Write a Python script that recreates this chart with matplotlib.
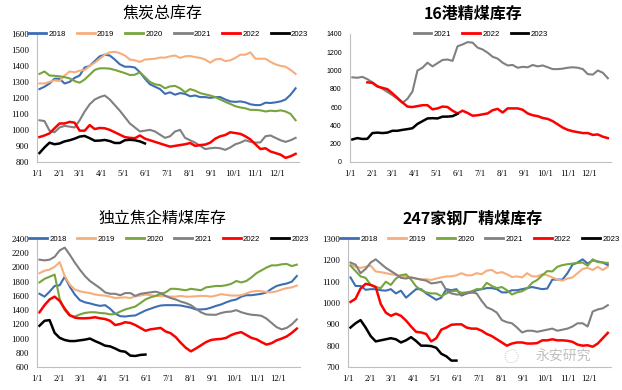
import numpy as np
import matplotlib
matplotlib.use('Agg')
import matplotlib.pyplot as plt

plt.rcParams['font.family'] = ['Noto Sans CJK SC', 'DejaVu Sans']

# ================= DATA =================
# weekly points, week i sits at day 7*i + 3
MONTH_DAYS = [0, 31, 59, 90, 120, 151, 181, 212, 243, 273, 304, 334]
MONTH_LABELS = ['1/1', '2/1', '3/1', '4/1', '5/1', '6/1', '7/1', '8/1', '9/1', '10/1', '11/1', '12/1']
YEARS = ['2018', '2019', '2020', '2021', '2022', '2023']
COLORS = {'2018': '#3d6eb4', '2019': '#f6ae7c', '2020': '#77a43d',
          '2021': '#808080', '2022': '#ff0000', '2023': '#000000'}

# 焦炭总库存
coke_2018 = [1255, 1270, 1290, 1320, 1320, 1290, 1300, 1325, 1340, 1390, 1400, 1430, 1460,
             1470, 1465, 1440, 1410, 1395, 1395, 1390, 1360, 1320, 1285, 1270, 1255, 1225,
             1235, 1220, 1230, 1225, 1210, 1215, 1205, 1205, 1200, 1205, 1205, 1190, 1178,
             1175, 1178, 1172, 1160, 1155, 1155, 1170, 1168, 1172, 1178, 1190, 1220, 1260]
coke_2019 = [1290, 1290, 1300, 1310, 1305, 1340, 1365, 1360, 1370, 1375, 1400, 1420, 1445,
             1470, 1485, 1488, 1480, 1465, 1440, 1435, 1425, 1440, 1442, 1445, 1452, 1452,
             1460, 1465, 1450, 1460, 1462, 1455, 1450, 1440, 1420, 1440, 1445, 1430, 1435,
             1450, 1470, 1470, 1485, 1445, 1445, 1445, 1425, 1410, 1400, 1395, 1375, 1350]
coke_2020 = [1350, 1365, 1340, 1338, 1335, 1330, 1322, 1305, 1295, 1315, 1345, 1375, 1385,
             1385, 1383, 1375, 1365, 1355, 1343, 1345, 1360, 1330, 1300, 1285, 1280, 1260,
             1272, 1275, 1260, 1235, 1255, 1245, 1230, 1222, 1215, 1205, 1190, 1175, 1162,
             1148, 1140, 1135, 1125, 1125, 1122, 1115, 1120, 1117, 1122, 1115, 1100, 1060]
coke_2021 = [1060, 1055, 995, 985, 1015, 1025, 1020, 1015, 1060, 1115, 1160, 1190, 1205,
             1215, 1190, 1155, 1120, 1080, 1040, 1015, 990, 995, 1000, 990, 970, 950,
             960, 990, 1000, 950, 935, 920, 900, 880, 885, 888, 885, 875, 890,
             910, 920, 935, 925, 920, 922, 960, 965, 950, 935, 925, 935, 950]
coke_2022 = [955, 965, 978, 1010, 1040, 1040, 1050, 1045, 995, 995, 1030, 1005, 1012,
             1010, 1000, 985, 970, 955, 950, 948, 965, 945, 935, 925, 915, 905,
             895, 900, 905, 910, 918, 900, 905, 908, 920, 945, 960, 968, 985,
             980, 975, 960, 940, 910, 880, 885, 865, 855, 845, 825, 835, 850]
coke_2023 = [855, 890, 920, 910, 915, 928, 935, 945, 958, 962, 948, 932, 933, 937, 930,
             918, 918, 935, 938, 935, 928, 915]

# 16港精煤库存
port_2021 = [925, 920, 930, 905, 870, 830, 800, 765, 730, 690, 645, 690, 770,
             1000, 1030, 1085, 1045, 1080, 1115, 1120, 1105, 1265, 1285, 1310, 1305, 1250,
             1230, 1195, 1150, 1130, 1085, 1055, 1060, 1030, 1040, 1035, 1060, 1045, 1055,
             1035, 1015, 1015, 1020, 1030, 1035, 1030, 1015, 960, 955, 1000, 975, 915]
port_2022 = [None, None, None, 870, 865, 825, 810, 795, 750, 700, 650, 605, 600,
             610, 620, 620, 575, 585, 605, 600, 560, 530, 560, 535, 505, 510,
             520, 530, 565, 580, 540, 585, 585, 585, 570, 530, 510, 500, 480,
             470, 445, 410, 375, 350, 335, 325, 315, 315, 295, 300, 275, 260]
port_2023 = [245, 260, 250, 252, 315, 320, 315, 320, 340, 340, 350, 358, 368, 415, 445,
             475, 478, 475, 495, 495, 500, 525]

# 独立焦企精煤库存
plant_2018 = [1630, 1590, 1660, 1740, 1750, 1870, 1730, 1620, 1540, 1510, 1495, 1475, 1460,
              1470, 1420, 1350, 1315, 1310, 1320, 1325, 1360, 1395, 1420, 1445, 1465, 1470,
              1470, 1470, 1465, 1450, 1435, 1410, 1410, 1415, 1435, 1460, 1480, 1510, 1535,
              1550, 1590, 1610, 1610, 1620, 1630, 1650, 1700, 1740, 1760, 1775, 1800, 1880]
plant_2019 = [1920, 1955, 1970, 2010, 2075, 1880, 1760, 1690, 1665, 1650, 1640, 1620, 1610,
              1605, 1590, 1570, 1575, 1580, 1570, 1595, 1605, 1620, 1610, 1600, 1600, 1595,
              1590, 1590, 1600, 1590, 1590, 1595, 1600, 1600, 1590, 1605, 1625, 1615, 1605,
              1605, 1610, 1635, 1660, 1670, 1665, 1655, 1650, 1665, 1690, 1710, 1720, 1745]
plant_2020 = [1790, 1840, 1870, 1900, 1560, 1400, 1320, 1310, 1340, 1360, 1370, 1370, 1360,
              1355, 1340, 1345, 1380, 1410, 1430, 1450, 1500, 1550, 1580, 1600, 1630, 1650,
              1700, 1700, 1690, 1680, 1700, 1690, 1680, 1720, 1730, 1740, 1740, 1750, 1770,
              1810, 1790, 1810, 1860, 1920, 1960, 2000, 2030, 2030, 2045, 2050, 2020, 2040]
plant_2021 = [2110, 2100, 2110, 2150, 2240, 2280, 2180, 2070, 1970, 1880, 1810, 1760, 1710,
              1650, 1630, 1630, 1610, 1640, 1640, 1600, 1630, 1640, 1650, 1660, 1640, 1600,
              1570, 1550, 1520, 1500, 1470, 1420, 1370, 1340, 1335, 1335, 1360, 1375, 1380,
              1400, 1370, 1350, 1335, 1330, 1320, 1280, 1220, 1160, 1130, 1150, 1200, 1270]
plant_2022 = [1370, 1470, 1550, 1590, 1530, 1420, 1330, 1295, 1285, 1285, 1290, 1300, 1285,
              1275, 1250, 1190, 1205, 1230, 1220, 1190, 1150, 1110, 1130, 1140, 1150, 1100,
              1075, 1020, 940, 870, 820, 860, 905, 950, 980, 990, 995, 1010, 1050,
              1075, 1090, 1050, 1010, 990, 950, 915, 935, 975, 1000, 1030, 1080, 1140]
plant_2023 = [1180, 1250, 1260, 1080, 1010, 980, 965, 965, 975, 985, 1000, 965, 935, 900,
              890, 860, 825, 815, 760, 755, 770, 775]

# 247家钢厂精煤库存
mill_2018 = [1120, 1080, 1080, 1062, 1065, 1065, 1060, 1058, 1065, 1045, 1058, 1025, 1045,
             1065, 1065, 1045, 1030, 1015, 1025, 1065, 1060, 1065, 1035, 1045, 1050, 1060,
             1065, 1070, 1070, 1065, 1050, 1050, 1060, 1060, 1065, 1070, 1075, 1070, 1065,
             1068, 1110, 1110, 1110, 1140, 1180, 1190, 1205, 1185, 1200, 1195, 1190, 1178]
mill_2019 = [1180, 1170, 1165, 1170, 1175, 1148, 1145, 1140, 1135, 1132, 1128, 1125, 1120,
             1115, 1110, 1112, 1108, 1115, 1120, 1125, 1125, 1130, 1140, 1130, 1130, 1140,
             1135, 1152, 1155, 1140, 1145, 1135, 1122, 1125, 1120, 1140, 1125, 1125, 1135,
             1130, 1120, 1110, 1105, 1115, 1120, 1140, 1160, 1165, 1155, 1170, 1155, 1170]
mill_2020 = [1175, 1150, 1125, 1118, 1085, 1075, 1070, 1100, 1085, 1115, 1130, 1135, 1110,
             1078, 1060, 1050, 1045, 1045, 1032, 1045, 1055, 1058, 1048, 1050, 1055, 1065,
             1065, 1095, 1080, 1070, 1075, 1060, 1040, 1050, 1055, 1068, 1095, 1108, 1130,
             1150, 1148, 1170, 1178, 1182, 1185, 1188, 1190, 1175, 1205, 1192, 1190, 1188]
mill_2021 = [1190, 1180, 1140, 1160, 1190, 1205, 1185, 1165, 1150, 1135, 1118, 1115, 1120,
             1115, 1110, 1105, 1092, 1095, 1100, 1060, 1045, 1040, 1040, 1045, 1050, 1045,
             1010, 980, 970, 955, 920, 910, 905, 885, 862, 870, 870, 865, 870,
             875, 880, 870, 875, 880, 890, 905, 905, 890, 960, 970, 975, 990]
mill_2022 = [1005, 1020, 1068, 1090, 1085, 1075, 995, 955, 940, 950, 940, 918, 890,
             865, 862, 855, 820, 835, 875, 885, 898, 900, 900, 885, 880, 880,
             870, 855, 845, 830, 815, 800, 810, 815, 815, 810, 810, 812, 825,
             825, 830, 825, 825, 823, 818, 805, 800, 802, 795, 810, 835, 860]
mill_2023 = [885, 905, 920, 885, 845, 820, 825, 830, 835, 830, 815, 825, 840, 822,
             800, 800, 798, 790, 762, 750, 730, 730]

CHARTS = [
    ('焦炭总库存', 'normal', (800, 1600, 100),
     {'2018': coke_2018, '2019': coke_2019, '2020': coke_2020,
      '2021': coke_2021, '2022': coke_2022, '2023': coke_2023}),
    ('16港精煤库存', 'bold', (0, 1400, 200),
     {'2021': port_2021, '2022': port_2022, '2023': port_2023}),
    ('独立焦企精煤库存', 'normal', (600, 2400, 200),
     {'2018': plant_2018, '2019': plant_2019, '2020': plant_2020,
      '2021': plant_2021, '2022': plant_2022, '2023': plant_2023}),
    ('247家钢厂精煤库存', 'bold', (700, 1300, 100),
     {'2018': mill_2018, '2019': mill_2019, '2020': mill_2020,
      '2021': mill_2021, '2022': mill_2022, '2023': mill_2023}),
]

# axes boxes in figure fractions: left, bottom, width, height
BOXES = [
    (0.060, 0.585, 0.421, 0.328),
    (0.563, 0.585, 0.420, 0.328),
    (0.060, 0.059, 0.423, 0.328),
    (0.560, 0.059, 0.423, 0.328),
]
TITLE_Y = [0.963, 0.963, 0.44, 0.44]

fig = plt.figure(figsize=(6.22, 3.90), dpi=100)
fig.patch.set_facecolor('white')

for k, (title, weight, (ymin, ymax, ystep), series) in enumerate(CHARTS):
    ax = fig.add_axes(BOXES[k])
    for yr in YEARS:
        if yr not in series:
            continue
        vals = np.array(series[yr], dtype=float)
        days = np.arange(len(vals)) * 7 + 3
        lw = 1.8 if yr in ('2022', '2023') else 1.5
        ax.plot(days, vals, color=COLORS[yr], lw=lw, label=yr, solid_joinstyle='round')

    ax.set_xlim(0, 365)
    ax.set_ylim(ymin, ymax)
    ax.set_yticks(np.arange(ymin, ymax + 1, ystep))
    ax.set_xticks(MONTH_DAYS)
    ax.set_xticklabels(MONTH_LABELS)
    for s in ('top', 'right'):
        ax.spines[s].set_visible(False)
    for s in ('left', 'bottom'):
        ax.spines[s].set_color('#bfbfbf')
        ax.spines[s].set_linewidth(0.8)
    ax.tick_params(axis='both', length=0, pad=6)
    ysize = 5.0 if k == 1 else 6.3
    for lab in ax.get_yticklabels():
        lab.set_fontfamily('Liberation Sans' if k == 1 else 'Liberation Serif')
        lab.set_fontsize(ysize)
    for lab in ax.get_xticklabels():
        lab.set_fontfamily('Liberation Serif')
        lab.set_fontsize(6.3)

    leg = ax.legend(loc='center', bbox_to_anchor=(0.5, 1.0), ncol=len(series),
                    frameon=False, handlelength=2.3, handletextpad=0.3,
                    columnspacing=1.4, borderaxespad=0,
                    prop={'family': 'Liberation Sans', 'size': 5.6})
    for line in leg.get_lines():
        line.set_linewidth(2.0)

    box = BOXES[k]
    cx = 0.25 if k in (0, 2) else 0.75
    fig.text(cx + (0.01 if k in (1, 3) else 0.012), TITLE_Y[k], title,
             ha='center', va='center', fontsize=11.5, fontweight=weight,
             family=['Noto Sans CJK SC', 'DejaVu Sans'])

# watermark
fig.text(0.905, 0.085, '永安研究', ha='center', va='center', fontsize=10,
         color='#b0b0b0', style='italic', alpha=0.8,
         family=['Noto Sans CJK SC', 'DejaVu Sans'])
fig.text(0.822, 0.085, '◌', ha='center', va='center', fontsize=11,
         color='#b8b8b8', alpha=0.8)

fig.savefig('out.png', dpi=100, facecolor='white')
